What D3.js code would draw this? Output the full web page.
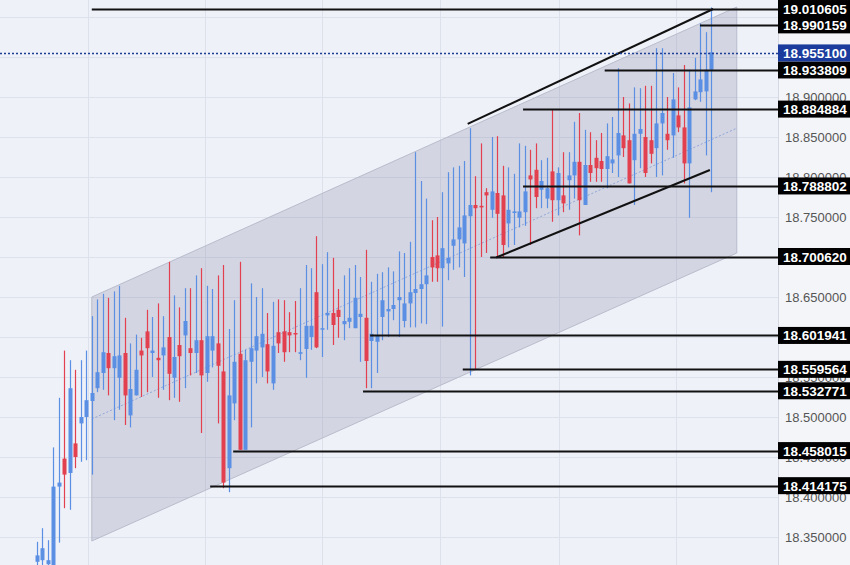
<!DOCTYPE html>
<html><head><meta charset="utf-8">
<script src="https://cdn.jsdelivr.net/npm/d3@7"></script>
<style>body{margin:0;background:#fff}svg{display:block}</style></head>
<body><svg id="c" width="850" height="565"></svg>
<script>
const opens=[18.319,18.321,18.316,18.315,18.413,18.448,18.430,18.467,18.492,18.500,18.520,18.536,18.555,18.580,18.561,18.549,18.580,18.502,18.527,18.583,18.607,18.580,18.574,18.577,18.600,18.549,18.590,18.602,18.586,18.580,18.596,18.555,18.583,18.592,18.557,18.436,18.517,18.579,18.459,18.569,18.583,18.587,18.591,18.542,18.606,18.607,18.606,18.605,18.579,18.585,18.600,18.656,18.610,18.627,18.630,18.634,18.616,18.619,18.611,18.625,18.624,18.595,18.594,18.625,18.632,18.635,18.646,18.620,18.642,18.655,18.660,18.666,18.700,18.702,18.686,18.692,18.714,18.722,18.717,18.751,18.765,18.764,18.781,18.759,18.780,18.777,18.742,18.755,18.749,18.756,18.802,18.809,18.784,18.773,18.807,18.771,18.777,18.796,18.802,18.819,18.765,18.815,18.824,18.820,18.810,18.817,18.827,18.852,18.846,18.821,18.854,18.850,18.846,18.836,18.867,18.854,18.852,18.877,18.862,18.817,18.897,18.906,18.907,18.934];
const highs=[18.344,18.361,18.346,18.462,18.524,18.583,18.571,18.559,18.571,18.583,18.626,18.647,18.654,18.649,18.657,18.664,18.624,18.592,18.603,18.599,18.634,18.625,18.642,18.626,18.694,18.652,18.637,18.661,18.661,18.677,18.686,18.664,18.660,18.677,18.690,18.610,18.646,18.694,18.584,18.667,18.650,18.661,18.630,18.644,18.647,18.646,18.631,18.645,18.661,18.690,18.686,18.726,18.691,18.706,18.699,18.660,18.677,18.686,18.690,18.675,18.709,18.669,18.679,18.681,18.687,18.682,18.707,18.705,18.719,18.831,18.795,18.773,18.746,18.750,18.781,18.806,18.812,18.814,18.820,18.861,18.801,18.842,18.786,18.850,18.851,18.814,18.812,18.804,18.842,18.839,18.834,18.842,18.821,18.824,18.885,18.812,18.831,18.831,18.869,18.880,18.859,18.856,18.846,18.855,18.867,18.875,18.936,18.900,18.892,18.912,18.911,18.914,18.914,18.961,18.961,18.900,18.930,18.912,18.940,18.934,18.949,18.992,18.981,19.012];
const lows=[18.315,18.315,18.315,18.315,18.343,18.386,18.384,18.436,18.444,18.446,18.428,18.531,18.534,18.527,18.496,18.509,18.490,18.487,18.527,18.525,18.531,18.550,18.524,18.534,18.521,18.524,18.519,18.536,18.552,18.555,18.480,18.544,18.562,18.492,18.411,18.406,18.496,18.459,18.459,18.487,18.542,18.550,18.542,18.534,18.580,18.569,18.581,18.581,18.571,18.549,18.584,18.586,18.575,18.609,18.590,18.599,18.596,18.611,18.611,18.569,18.536,18.536,18.555,18.596,18.600,18.621,18.600,18.612,18.612,18.612,18.617,18.616,18.669,18.669,18.613,18.671,18.684,18.687,18.675,18.552,18.559,18.700,18.705,18.749,18.700,18.699,18.712,18.715,18.737,18.739,18.715,18.761,18.761,18.761,18.744,18.752,18.756,18.759,18.773,18.727,18.765,18.794,18.794,18.794,18.786,18.805,18.800,18.825,18.792,18.765,18.811,18.800,18.817,18.800,18.802,18.834,18.824,18.856,18.792,18.749,18.896,18.894,18.827,18.781];
const closes=[18.327,18.336,18.321,18.413,18.418,18.428,18.536,18.450,18.500,18.521,18.530,18.556,18.581,18.561,18.576,18.577,18.527,18.535,18.559,18.577,18.586,18.583,18.571,18.587,18.554,18.575,18.576,18.620,18.580,18.596,18.552,18.601,18.601,18.564,18.418,18.527,18.569,18.459,18.571,18.586,18.601,18.604,18.557,18.589,18.592,18.581,18.602,18.604,18.581,18.614,18.614,18.587,18.611,18.630,18.615,18.625,18.620,18.624,18.649,18.629,18.570,18.604,18.602,18.646,18.635,18.640,18.650,18.642,18.656,18.660,18.666,18.677,18.687,18.686,18.711,18.699,18.722,18.737,18.752,18.765,18.761,18.762,18.777,18.782,18.754,18.715,18.759,18.757,18.757,18.782,18.797,18.775,18.795,18.786,18.771,18.805,18.767,18.802,18.819,18.771,18.815,18.805,18.811,18.810,18.826,18.822,18.855,18.836,18.792,18.854,18.860,18.805,18.829,18.867,18.880,18.846,18.897,18.862,18.817,18.887,18.907,18.922,18.934,18.956];
const yTicks=[18.35,18.40,18.45,18.50,18.55,18.60,18.65,18.70,18.75,18.80,18.85,18.90,18.95,19.00];
const xGridIdx=[9.3,30.7,52.0,73.6,95.3,116.6];
const channelPoly=[[10,18.65],[127.7,19.0125],[127.7,18.705],[10,18.345]];
const channelMid=[[10,18.4975],[127.7,18.861]];
const trendUpper=[[78.6,18.8663],[123.4,19.010]];
const trendLower=[[83.8,18.6994],[122.8,18.8088]];
const levelValues=[19.010605,18.990159,18.933809,18.884884,18.788802,18.700620,18.601941,18.559564,18.532771,18.458015,18.414175];
const levelStartIdx=[10,121,103.6,88.7,88.7,82.7,60.8,77.7,59.5,35.8,31.6];
const lastPrice=18.955100;

const svg=d3.select("#c");
const W=850,H=565,axisX=778;
const x=d3.scaleLinear().domain([0,123]).range([37,711]);
const y=d3.scaleLinear().domain([18.35,19.01]).range([537,9]);
svg.append("rect").attr("width",axisX).attr("height",H).attr("fill","#eef1f8");
svg.append("rect").attr("x",axisX).attr("width",W-axisX).attr("height",H).attr("fill","#f4f5f9");
svg.append("line").attr("x1",axisX+0.5).attr("x2",axisX+0.5).attr("y1",0).attr("y2",H).attr("stroke","#d5d8e2");
const g=svg.append("g");
g.selectAll(".hg").data(yTicks).join("line").attr("x1",0).attr("x2",axisX).attr("y1",d=>Math.round(y(d))+0.5).attr("y2",d=>Math.round(y(d))+0.5).attr("stroke","#dde1ec");
g.selectAll(".vg").data(xGridIdx).join("line").attr("x1",d=>Math.round(x(d))+0.5).attr("x2",d=>Math.round(x(d))+0.5).attr("y1",0).attr("y2",H).attr("stroke","#dde1ec");
const pt=d=>[x(d[0]),y(d[1])];
g.append("path").attr("d",d3.line()(channelPoly.map(pt))+"Z").attr("fill","rgba(130,132,160,0.25)").attr("stroke","#b9bccb").attr("stroke-width",1);
g.append("path").attr("d",d3.line()(channelMid.map(pt))).attr("stroke","#8fa6d8").attr("stroke-dasharray","2,2").attr("fill","none");
const data=opens.map((o,i)=>({i,o,h:highs[i],l:lows[i],c:closes[i]}));
const cg=g.append("g");
data.forEach(d=>{
 const col=d.c>=d.o?"#5b8fe3":"#e2404f";
 const cx=Math.round(x(d.i))+0.5;
 cg.append("line").attr("x1",cx).attr("x2",cx).attr("y1",y(d.h)).attr("y2",y(d.l)).attr("stroke",col).attr("stroke-width",1.2);
 const t=y(Math.max(d.o,d.c)),b=y(Math.min(d.o,d.c));
 cg.append("rect").attr("x",cx-2).attr("width",4).attr("y",t).attr("height",Math.max(1.5,b-t)).attr("fill",col);
});
[trendUpper,trendLower].forEach(t=>g.append("path").attr("d",d3.line()(t.map(pt))).attr("stroke","#111").attr("stroke-width",2).attr("fill","none"));
const allLab=levelValues.concat([lastPrice]);
const ticksShown=yTicks.filter(v=>!allLab.some(l=>Math.abs(y(l)-y(v))<6));
svg.selectAll(".tl").data(ticksShown).join("text").attr("x",785).attr("y",d=>y(d)+5).text(d=>d.toFixed(6))
 .attr("font-family","Liberation Sans, Arial, sans-serif").attr("font-size",13).attr("fill","#555");
levelValues.forEach((v,k)=>{
 const yy=Math.round(y(v))+0.5;
 g.append("line").attr("x1",x(levelStartIdx[k])).attr("x2",axisX).attr("y1",yy).attr("y2",yy).attr("stroke","#111").attr("stroke-width",2);
});
svg.append("line").attr("x1",0).attr("x2",axisX).attr("y1",Math.round(y(lastPrice))+0.5).attr("y2",Math.round(y(lastPrice))+0.5).attr("stroke","#1f3f95").attr("stroke-width",1.6).attr("stroke-dasharray","2,2");
const labels=levelValues.map(v=>({v,c:"#000"})).concat([{v:lastPrice,c:"#1b3c9c"}]);
labels.forEach(l=>{
 const yy=y(l.v);
 svg.append("rect").attr("x",axisX).attr("y",yy-8.5).attr("width",W-axisX).attr("height",17).attr("fill",l.c);
 svg.append("text").attr("x",783).attr("y",yy+5).text(l.v.toFixed(6)).attr("font-family","Liberation Sans, Arial, sans-serif").attr("font-weight","bold").attr("font-size",13.5).attr("fill","#fff");
});
</script></body></html>
